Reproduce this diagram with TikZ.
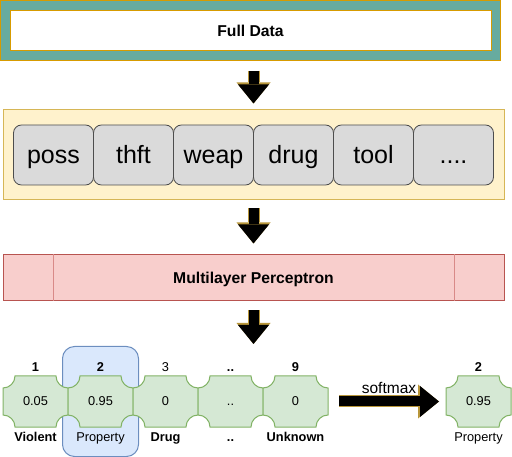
\documentclass[tikz,border=0pt]{standalone}
\usepackage{fontspec}
\setmainfont{Liberation Sans}
\usetikzlibrary{positioning,arrows.meta}
\definecolor{datateal}{HTML}{67AB9F}
\definecolor{dataline}{HTML}{D79B00}
\definecolor{featfill}{HTML}{FFF2CC}
\definecolor{featline}{HTML}{D6B656}
\definecolor{catfill}{HTML}{DADADA}
\definecolor{catline}{HTML}{4D4D4D}
\definecolor{mlpfill}{HTML}{F8CECC}
\definecolor{mlpedge}{HTML}{B85450}
\definecolor{mlpinner}{HTML}{D98A88}
\definecolor{plaquefill}{HTML}{D5E8D4}
\definecolor{plaqueedge}{HTML}{82B366}
\definecolor{pickfill}{HTML}{DAE8FC}
\definecolor{pickedge}{HTML}{6C8EBF}
\definecolor{arrowedge}{HTML}{B8963A}
\tikzset{%
outerbox/.style={draw=dataline, fill=datateal, line width=1pt, minimum width=500, minimum height=60},
innerbox/.style={draw=dataline, fill=white, line width=1pt, minimum width=481, minimum height=40,
                 font=\fontsize{15.7}{18}\selectfont\bfseries, text height=11.5, text depth=0},
featbox/.style={draw=featline, fill=featfill, line width=1pt, minimum width=501, minimum height=90},
catbox/.style={draw=catline, fill=catfill, line width=0.8pt, rounded corners=8, outer sep=0,
               minimum width=80, minimum height=60, font=\fontsize{25}{28}\selectfont,
               text height=18, text depth=1},
mlpbox/.style={draw=mlpedge, fill=mlpfill, line width=1pt, minimum width=501, minimum height=46,
               font=\fontsize{15.7}{18}\selectfont\bfseries, text height=11.5, text depth=0},
mlpline/.style={draw=mlpinner, line width=1pt},
pick/.style={draw=pickedge, fill=pickfill, line width=1pt, rounded corners=12,
             minimum width=76, minimum height=110},
lbl/.style={font=\fontsize{12.8}{15}\selectfont, anchor=base, inner sep=0},
bigarrow/.style={line width=10pt, -{Triangle[width=31pt, length=19pt, line width=0pt]},
                 preaction={draw=arrowedge, line width=12pt,
                            -{Triangle[width=34pt, length=21pt, line width=0pt]}}},
pics/plaque/.style={code={
    \draw[draw=plaqueedge, fill=plaquefill, line width=1pt]
        (-32.5,13.5) arc[start angle=270, end angle=360, radius=12]
        -- (20.5,25.5) arc[start angle=180, end angle=270, radius=12]
        -- (32.5,-13.5) arc[start angle=90, end angle=180, radius=12]
        -- (-20.5,-25.5) arc[start angle=0, end angle=90, radius=12]
        -- cycle;
    \coordinate (-w) at (-32.5,0);
    \coordinate (-e) at (32.5,0);
    \node[lbl] (-val) at (0,-4.5) {#1};
  }},
}
\begin{document}
\begin{tikzpicture}[x=1pt, y=1pt]
\useasboundingbox (0,0) rectangle (512,-457);

\node[outerbox] (data) at (250.5,-30.5) {};
\node[innerbox] (datain) at (data) {Full Data};

\node[featbox] (feats) at (253.5,-155) {};
\node[catbox] (poss) at (53.5,-155) {poss};
\node[catbox, right=0pt of poss] (thft) {thft};
\node[catbox, right=0pt of thft] (weap) {weap};
\node[catbox, right=0pt of weap] (drugcat) {drug};
\node[catbox, right=0pt of drugcat] (tool) {tool};
\node[catbox, right=0pt of tool] (more) {....};

\node[mlpbox] (mlp) at (253.5,-278) {Multilayer Perceptron};
\draw[mlpline] ([xshift=51]mlp.north west) -- ([xshift=51]mlp.south west);
\draw[mlpline] ([xshift=-50]mlp.north east) -- ([xshift=-50]mlp.south east);
\coordinate (mlpout) at (253.5,-344);

\draw[bigarrow] ([yshift=-10]feats.north |- data.south) -- ([yshift=6]feats.north);
\draw[bigarrow] ([yshift=-8]feats.south) -- ([yshift=11]mlp.north);
\draw[bigarrow] ([yshift=-9]mlp.south) -- (mlpout);

\node[pick] (pick) at (100.5,-401.5) {};
\pic (violent) at (35.5,-401.5) {plaque=0.05};
\pic (property) at (100.5,-401.5) {plaque=0.95};
\pic (drug) at (165.5,-401.5) {plaque=0};
\pic (other) at (230.5,-401.5) {plaque=..};
\pic (unknown) at (295.5,-401.5) {plaque=0};
\pic (result) at (478.5,-401.5) {plaque=0.95};

\node[lbl] (num1) at ([yshift=35]violent-val.base) {\bfseries 1};
\node[lbl] (num2) at ([yshift=35]property-val.base) {\bfseries 2};
\node[lbl] (num3) at ([yshift=35]drug-val.base) {3};
\node[lbl] (numx) at ([yshift=35]other-val.base) {\bfseries ..};
\node[lbl] (num9) at ([yshift=35]unknown-val.base) {\bfseries 9};
\node[lbl] (numr) at ([yshift=35]result-val.base) {\bfseries 2};

\node[lbl] (name1) at ([yshift=-36]violent-val.base) {\bfseries Violent};
\node[lbl] (name2) at ([yshift=-36]property-val.base) {Property};
\node[lbl] (name3) at ([yshift=-36]drug-val.base) {\bfseries Drug};
\node[lbl] (namex) at ([yshift=-36]other-val.base) {\bfseries ..};
\node[lbl] (name9) at ([yshift=-36]unknown-val.base) {\bfseries Unknown};
\node[lbl] (namer) at ([yshift=-36]result-val.base) {Property};

\draw[bigarrow] ([xshift=11]unknown-e) -- ([xshift=-7]result-w)
      node[midway, lbl, yshift=8, font=\fontsize{15.5}{18}\selectfont] (soft) {softmax};
\end{tikzpicture}
\end{document}
